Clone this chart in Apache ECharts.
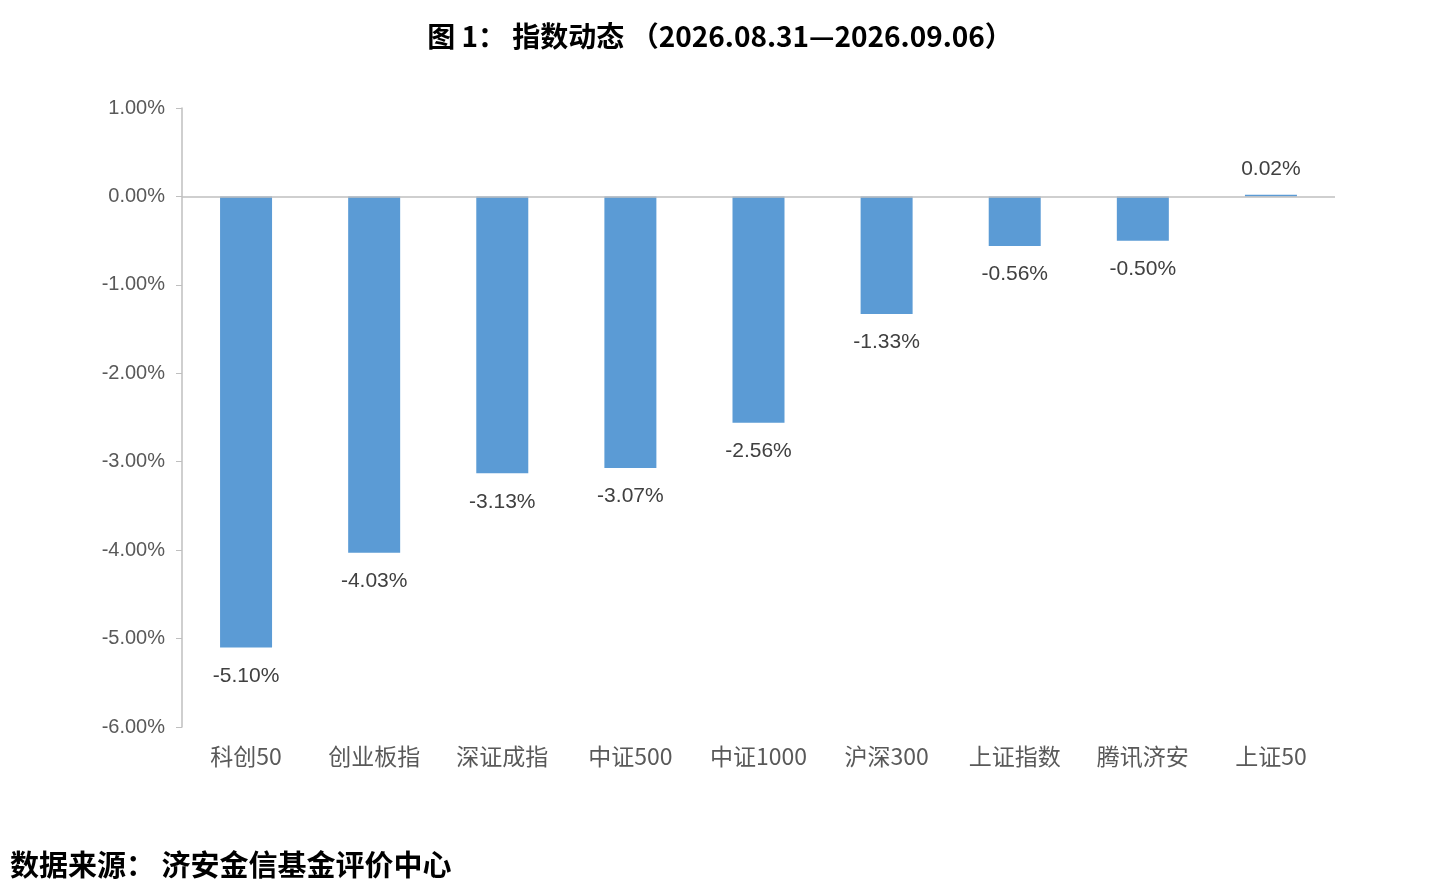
<!DOCTYPE html>
<html>
<head>
<meta charset="utf-8">
<script src="https://cdn.jsdelivr.net/npm/echarts@6/dist/echarts.min.js"></script>
<style>
	html, body { margin: 0; padding: 0; background: #fff; }
	#chart { width: 1440px; height: 894px; }
</style>
</head>
<body>
<div id="chart"></div>
<script>
var categories = ['科创50', '创业板指', '深证成指', '中证500', '中证1000', '沪深300', '上证指数', '腾讯济安', '上证50'];
var weeklyChange = [-5.10, -4.03, -3.13, -3.07, -2.56, -1.33, -0.56, -0.50, 0.02];
var yTicks = { min: -6, max: 1, interval: 1 };

var myChart = echarts.init(document.getElementById('chart'));

var barData = [];
for (var i = 0; i < weeklyChange.length; i += 1) {
	barData.push({
		value: weeklyChange[i],
		label: {
			position: weeklyChange[i] < 0 ? 'bottom' : 'top',
			distance: weeklyChange[i] < 0 ? 18 : 15
		}
	});
}

myChart.setOption({
	animation: false,
	title: [{
		text: '图 1： 指数动态 （2026.08.31—2026.09.06）',
		left: 'center',
		top: 17,
		textStyle: {
			fontFamily: 'Noto Sans CJK SC',
			fontSize: 28,
			fontWeight: 'bold',
			color: '#000'
		}
	}, {
		text: '数据来源： 济安金信基金评价中心',
		left: 5,
		top: 845,
		textStyle: {
			fontFamily: 'Noto Sans CJK SC',
			fontSize: 29,
			fontWeight: 'bold',
			color: '#000'
		}
	}],
	grid: {
		left: 182,
		right: 105,
		top: 108,
		bottom: 167
	},
	xAxis: {
		type: 'category',
		data: categories,
		axisLine: { show: false, onZero: false },
		axisTick: { show: false },
		axisLabel: {
			margin: 18,
			fontSize: 23,
			color: '#595959',
			fontFamily: 'Noto Sans CJK SC'
		}
	},
	yAxis: {
		type: 'value',
		min: yTicks.min,
		max: yTicks.max,
		interval: yTicks.interval,
		axisLine: { show: true, lineStyle: { color: '#bfbfbf', width: 1.5 } },
		axisTick: { show: true, inside: false, length: 6, lineStyle: { color: '#bfbfbf' } },
		splitLine: { show: false },
		axisLabel: {
			margin: 17,
			fontSize: 20,
			color: '#595959',
			fontFamily: 'Liberation Sans',
			formatter: function(value) {
				return value.toFixed(2) + '%';
			}
		}
	},
	series: [{
		type: 'bar',
		data: barData,
		barWidth: 52,
		itemStyle: { color: '#5b9bd5' },
		label: {
			show: true,
			fontSize: 21,
			color: '#404040',
			fontFamily: 'Liberation Sans',
			formatter: function(p) {
				return p.value.toFixed(2) + '%';
			}
		},
		markLine: {
			silent: true,
			symbol: 'none',
			label: { show: false },
			lineStyle: { color: '#bfbfbf', type: 'solid', width: 1.5 },
			data: [{ yAxis: 0 }]
		}
	}]
});
</script>
</body>
</html>
